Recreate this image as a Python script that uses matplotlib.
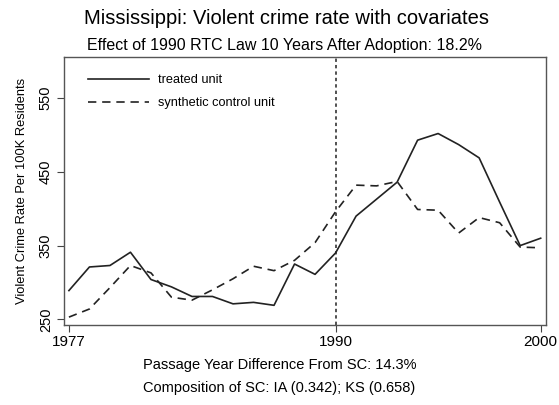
import matplotlib
matplotlib.use("Agg")
from matplotlib import pyplot as plt

years = list(range(1977, 2001))
treated = [289, 321, 323, 341, 304, 294, 281, 281, 271, 273, 269, 325,
           311, 340, 390, 413, 436, 493, 502, 487, 469, 409, 350, 360]
synthetic = [253, 264, 293, 323, 313, 280, 276, 290, 305, 322, 316, 330,
             354, 396, 432, 431, 437, 399, 398, 367, 388, 381, 348, 347]

title = "Mississippi: Violent crime rate with covariates"
subtitle = "Effect of 1990 RTC Law 10 Years After Adoption: 18.2%"
note1 = "Passage Year Difference From SC: 14.3%"
note2 = "Composition of SC: IA (0.342); KS (0.658)"
xticks = [1977, 1990, 2000]
yticks = [250, 350, 450, 550]

plt.rcParams['font.family'] = ['Liberation Sans', 'DejaVu Sans']

fig = plt.figure(figsize=(5.59, 4.05), dpi=100)
ax = fig.add_axes([64 / 559, 80 / 405, 482 / 559, 268 / 405])

ax.plot(years, treated, color='#222222', linewidth=1.2, label="treated unit")
ax.plot(years, synthetic, color='#222222', linewidth=1.2, linestyle=(0, (5, 3.5)),
        label="synthetic control unit")
ax.axvline(1990, color='#222222', linewidth=1.1, linestyle=(0, (2.2, 2)))

ax.set_xlim(1976.76, 2000.26)
ax.set_ylim(242.3, 605.8)
ax.set_xticks(xticks)
ax.set_yticks(yticks)
ax.tick_params(axis='x', labelsize=11, length=5, width=0.8, color='#444444', pad=2)
ax.tick_params(axis='y', labelsize=10.5, length=5, width=0.8, color='#444444', pad=3)
for lab in ax.get_yticklabels():
    lab.set_rotation(90)
    lab.set_va('center')
for s in ax.spines.values():
    s.set_color('#555555')
    s.set_linewidth(1.0)

ax.set_ylabel("Violent Crime Rate Per 100K Residents", fontsize=9.3, labelpad=8)

ax.legend(loc='upper left', frameon=False, fontsize=9.2, handlelength=4.8,
          handletextpad=0.7, labelspacing=0.85, bbox_to_anchor=(0.025, 0.978))

fig.text(0.512, 0.955, title, ha='center', va='center', fontsize=14.5)
fig.text(0.509, 0.888, subtitle, ha='center', va='center', fontsize=11.5)
fig.text(0.5, 0.1, note1, ha='center', va='center', fontsize=10.5)
fig.text(0.5, 0.042, note2, ha='center', va='center', fontsize=10.5)

fig.savefig("out.png", dpi=100)
